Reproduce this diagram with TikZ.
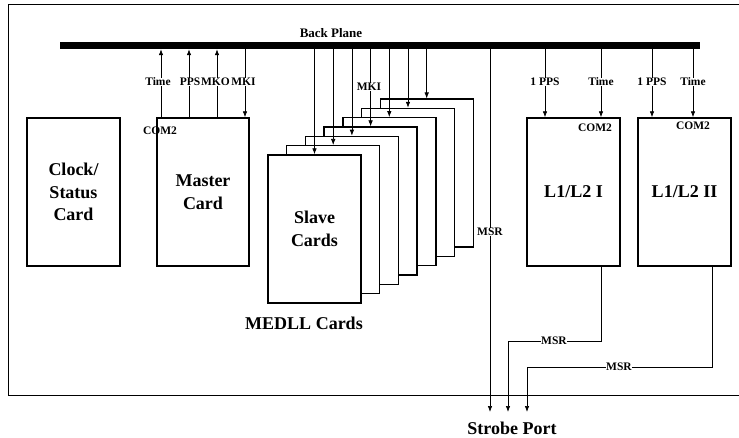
\documentclass[tikz,border=0pt]{standalone}
\usepackage{fontspec}
\setmainfont{Liberation Serif}
\usetikzlibrary{arrows.meta,calc}
\begin{document}
\begin{tikzpicture}[x=1pt,y=-1pt,
 card/.style={draw,line width=1.4pt,fill=white,minimum width=93pt,minimum height=148pt,inner sep=0pt,align=center,font=\bfseries\fontsize{18}{22.5}\selectfont},
 lbl/.style={font=\bfseries\fontsize{11.5}{14}\selectfont,inner sep=0.3pt},
 lblw/.style={lbl,fill=white},
 big/.style={font=\bfseries\fontsize{18}{22}\selectfont,inner sep=0pt},
 arr/.style={line width=0.7pt,-{Latex[length=6pt,width=4.5pt]}},
 wire/.style={line width=0.7pt}]
\useasboundingbox (0,0) rectangle (739,438);
% frame
\draw[line width=1pt] (739,5) -- (8,5) -- (8,395) -- (739,395);
% back plane
\node[fill=black,minimum width=640pt,minimum height=7pt,inner sep=0pt] (bp) at (380,45.5) {};
\node[lbl,font=\bfseries\fontsize{13}{15}\selectfont] (bpl) at (331,33) {Back Plane};
% cards
\node[card] (clock) at (73.5,192) {Clock/\\Status\\Card};
\node[card,minimum width=92pt] (master) at (203,192) {Master\\Card};
\foreach \k in {6,5,4,3,2,1}
  \node[card] (s\k) at ({314.5+18.7*\k},{229-9.3*\k}) {};
\node[card] (s0) at (314.5,229) {Slave\\Cards};
\node[card] (l1) at (573.5,192) {L1/L2 I};
\node[card] (l2) at (684.5,192) {L1/L2 II};
% strobe port
\node[big] (sp) at (512,428) {Strobe Port};
\coordinate (spin) at (512,412);
\node[big] (medll) at (304,323) {MEDLL Cards};
% master links
\draw[arr] (161,0 |- master.north) -- (161,0 |- bp.south);
\draw[arr] (189,0 |- master.north) -- (189,0 |- bp.south);
\draw[arr] (217,0 |- master.north) -- (217,0 |- bp.south);
\draw[arr] (245,0 |- bp.south) -- (245,0 |- master.north);
\node[lblw] (mt) at (158,82) {Time};
\node[lblw] (mp) at (190,82) {PPS};
\node[lblw] (mo) at (215.5,82) {MKO};
\node[lblw] (mi) at (243.5,82) {MKI};
\node[lbl] (mcom) at (160,131) {COM2};
% slave links
\foreach \k in {0,...,6}
  \draw[arr] (s\k.north |- bp.south) -- (s\k.north);
\node[lblw] (smki) at (369,87) {MKI};
% MSR direct
\draw[arr] (490,0 |- bp.south) -- (490,0 |- spin);
\node[lblw] (msr0) at (490,232) {MSR};
% L1/L2 links
\draw[arr] (545,0 |- bp.south) -- (545,0 |- l1.north);
\draw[arr] (601,0 |- bp.south) -- (601,0 |- l1.north);
\draw[arr] (652,0 |- bp.south) -- (652,0 |- l2.north);
\draw[arr] (693,0 |- bp.south) -- (693,0 |- l2.north);
\node[lblw] (l1p) at (545,82) {1 PPS};
\node[lblw] (l1t) at (601,82) {Time};
\node[lblw] (l2p) at (652,82) {1 PPS};
\node[lblw] (l2t) at (693,82) {Time};
\node[lbl] (l1c) at (595,128) {COM2};
\node[lbl] (l2c) at (693,126) {COM2};
% MSR from L1/L2
\draw[arr] (601,0 |- l1.south) |- (508,341) -- (508,0 |- spin);
\node[lblw] (msr1) at (554,341) {MSR};
\draw[arr] (712,0 |- l2.south) |- (527,367) -- (527,0 |- spin);
\node[lblw] (msr2) at (619,367) {MSR};
\end{tikzpicture}
\end{document}
